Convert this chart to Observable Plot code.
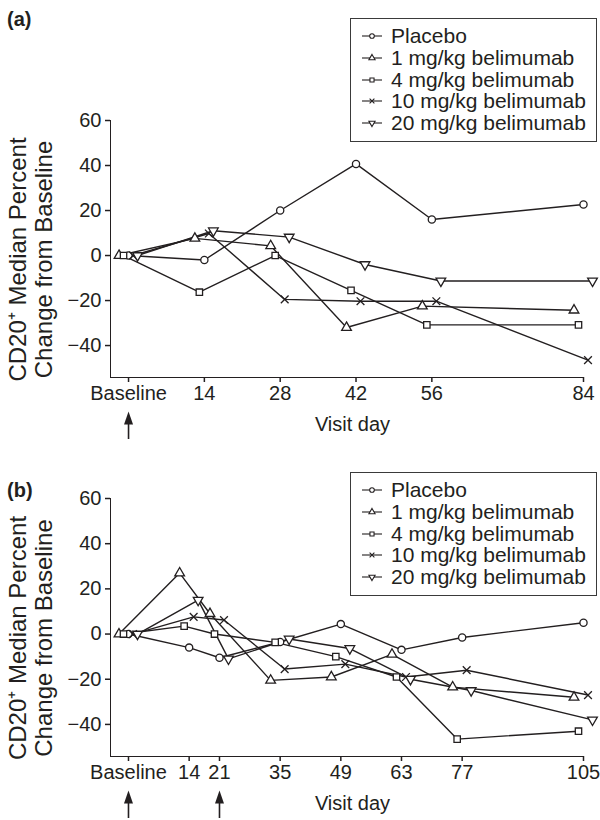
<!DOCTYPE html>
<html>
<head>
<meta charset="utf-8">
<script src="https://cdn.jsdelivr.net/npm/d3@7"></script>
<script src="https://cdn.jsdelivr.net/npm/@observablehq/plot@0.6"></script>
<style>
  body { margin: 0; background: white; }
  #fig { position: relative; width: 600px; height: 820px; overflow: hidden; background: white;
         font-family: "Liberation Sans", Arial, Helvetica, sans-serif; color: #231f20; }
  .panel { position: absolute; left: 0; }
  .panel svg g[aria-label^="x-axis"] line, .panel svg g[aria-label^="x-axis"] path,
  .panel svg g[aria-label^="y-axis"] line, .panel svg g[aria-label^="y-axis"] path { stroke-width: 1.5px; }
  .tag { position: absolute; left: 7px; font-weight: bold; font-size: 20px; line-height: 1; }
  .legend { position: absolute; left: 350px; width: 247px; height: 124px; box-sizing: border-box;
            border: 1.5px solid #3a3a3a; background: white; }
  .legend .row { position: absolute; left: 0; height: 22px; display: flex; align-items: center; }
  .legend svg { position: absolute; left: 10px; top: 6px; }
  .legend span { position: absolute; left: 40px; font-size: 21px; white-space: nowrap; line-height: 22px; top: 0; }
</style>
</head>
<body>
<div id="fig"></div>
<script>
// ---------- data ----------
const seriesNames = ["Placebo", "1 mg/kg belimumab", "4 mg/kg belimumab", "10 mg/kg belimumab", "20 mg/kg belimumab"];

// Panel (a)
const daysA = [0, 14, 28, 42, 56, 84];
const xTicksA = [0, 14, 28, 42, 56, 84];
const placeboA = [0, -2, 20, 40.7, 16, 22.7];
const mg1A = [0, 7.6, 4.3, -32, -22.5, -24.3];
const mg4A = [0, -16.3, 0, -15.5, -30.8, -30.8];
const mg10A = [0, 9.8, -19.5, -20.3, -20.3, -46.5];
const mg20A = [0, 11, 8.2, -4, -11.3, -11.3];
const doseDaysA = [0];

// Panel (b)
const daysB = [0, 14, 21, 35, 49, 63, 77, 105];
const xTicksB = [0, 14, 21, 35, 49, 63, 77, 105];
const placeboB = [0, -6, -10.5, -3.5, 4.4, -7, -1.5, 5];
const mg1B = [0, 27, 9, -20.5, -19, -9, -23.5, -28];
const mg4B = [0, 3.5, 0, -3.7, -10, -19, -46.5, -43];
const mg10B = [0, 7.6, 6.2, -15.5, -13.3, -19, -16, -27];
const mg20B = [0, 15, -11, -2.2, -6.4, -20, -25, -38];
const doseDaysB = [0, 21];

const yTicks = [-40, -20, 0, 20, 40, 60];
const yLabel = "CD20\u207A Median Percent\nChange from Baseline";
const xLabel = "Visit day";

// ---------- styles ----------
const ink = "#231f20";
const downTriangle = {
  draw(context, size) {
    const y = -Math.sqrt(size / (Math.sqrt(3) * 3));
    context.moveTo(0, -y * 2);
    context.lineTo(-Math.sqrt(3) * y, y);
    context.lineTo(Math.sqrt(3) * y, y);
    context.closePath();
  }
};
const arrowHead = {
  draw(context) {
    context.moveTo(0, -6.5);
    context.lineTo(4.5, 6.5);
    context.lineTo(-4.5, 6.5);
    context.closePath();
  }
};
const symbols = ["circle", "triangle", "square", "times", downTriangle];
const d3Symbols = [d3.symbolCircle, d3.symbolTriangle, d3.symbolSquare, d3.symbolTimes, downTriangle];
const offsets = [0, -9.5, -5, 4.5, 9];   // px dodge per series
const fontFamily = '"Liberation Sans", Arial, Helvetica, sans-serif';

function makePanel({days, series, xTicks, xDomain, doseDays, height, marginTop, marginBottom}) {
  const marginLeft = 110, marginRight = 17;
  const yDomain = [-54.2, 60];
  const yLocal = d3.scaleLinear(yDomain, [height - marginBottom, marginTop]);
  const axisY = height - marginBottom;
  const headY = yLocal.invert(axisY + 40.5);
  const shaftTop = yLocal.invert(axisY + 45);
  const shaftBot = yLocal.invert(axisY + 62);

  const rows = series.map((vals, s) => days.map((d, i) => ({day: d, value: vals[i], s})));
  const marks = [];
  rows.forEach((r, s) => marks.push(Plot.line(r, {x: "day", y: "value", dx: offsets[s], stroke: ink, strokeWidth: 1.4})));
  rows.forEach((r, s) => marks.push(Plot.dot(r, {x: "day", y: "value", dx: offsets[s], symbol: symbols[s], r: 3.6,
    fill: s === 3 ? "none" : "white", stroke: ink, strokeWidth: 1.3})));
  marks.push(Plot.ruleX(doseDays, {x: d => d, y1: shaftTop, y2: shaftBot, stroke: ink, strokeWidth: 1.6}));
  marks.push(Plot.dot(doseDays, {x: d => d, y: headY, symbol: arrowHead, r: 4, fill: ink, stroke: "none"}));
  marks.push(Plot.text([yLabel], {text: d => d, frameAnchor: "left", rotate: -90, dx: -79.5, dy: 10.5,
    fontSize: 24, lineHeight: 1.05, textAnchor: "middle", lineAnchor: "middle", fill: ink}));
  marks.push(Plot.text([xLabel], {text: d => d, frameAnchor: "bottom", dx: 5.5, dy: 47,
    fontSize: 20, lineAnchor: "middle", fill: ink}));

  return Plot.plot({
    width: 600, height, marginLeft, marginRight, marginTop, marginBottom,
    x: {domain: xDomain, ticks: xTicks, tickFormat: d => d === 0 ? "Baseline" : String(d),
        tickSize: 5, tickPadding: 3, line: true, label: null},
    y: {domain: yDomain, ticks: yTicks, tickSize: 5, tickPadding: 4, line: true, label: null},
    style: {fontFamily, fontSize: "20px", color: ink, background: "transparent", overflow: "visible"},
    marks
  });
}

function makeLegend(top) {
  const box = document.createElement("div");
  box.className = "legend";
  box.style.top = top + "px";
  seriesNames.forEach((name, i) => {
    const row = document.createElement("div");
    row.className = "row";
    row.style.top = (18.7 - 1.5 - 11 + i * 21.67) + "px";
    row.style.width = "240px";
    const svg = d3.create("svg").attr("width", 22).attr("height", 10);
    svg.append("line").attr("x1", 1).attr("x2", 21).attr("y1", 5).attr("y2", 5).attr("stroke", ink).attr("stroke-width", 1.1);
    svg.append("path").attr("transform", "translate(11,5)")
      .attr("d", d3.symbol(d3Symbols[i], Math.PI * 2.3 * 2.3)())
      .attr("fill", i === 3 ? "none" : "white").attr("stroke", ink).attr("stroke-width", 1.1);
    row.appendChild(svg.node());
    const span = document.createElement("span");
    span.textContent = name;
    row.appendChild(span);
    box.appendChild(row);
  });
  return box;
}

const fig = document.getElementById("fig");

const panelA = makePanel({
  days: daysA, series: [placeboA, mg1A, mg4A, mg10A, mg20A], xTicks: xTicksA,
  xDomain: [-3.33, 84], doseDays: doseDaysA, height: 455, marginTop: 120, marginBottom: 78
});
const wrapA = document.createElement("div");
wrapA.className = "panel"; wrapA.style.top = "0px";
wrapA.appendChild(panelA);
fig.appendChild(wrapA);

const panelB = makePanel({
  days: daysB, series: [placeboB, mg1B, mg4B, mg10B, mg20B], xTicks: xTicksB,
  xDomain: [-4.15, 105], doseDays: doseDaysB, height: 365, marginTop: 43, marginBottom: 64
});
const wrapB = document.createElement("div");
wrapB.className = "panel"; wrapB.style.top = "455px";
wrapB.appendChild(panelB);
fig.appendChild(wrapB);

fig.appendChild(makeLegend(18));
fig.appendChild(makeLegend(472));

const tagA = document.createElement("div");
tagA.className = "tag"; tagA.style.top = "9px"; tagA.textContent = "(a)";
fig.appendChild(tagA);
const tagB = document.createElement("div");
tagB.className = "tag"; tagB.style.top = "480px"; tagB.textContent = "(b)";
fig.appendChild(tagB);
</script>
</body>
</html>
